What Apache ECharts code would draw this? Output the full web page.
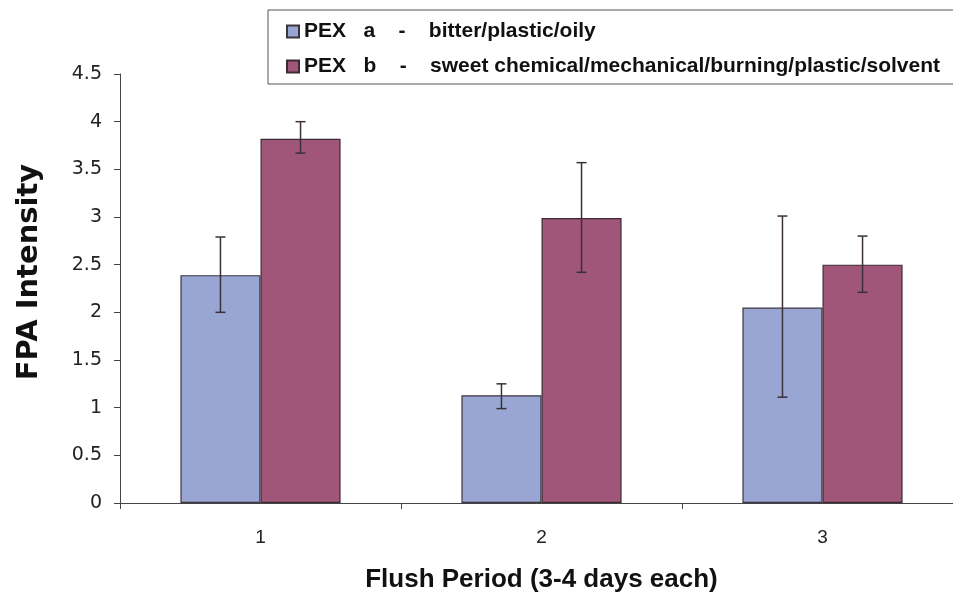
<!DOCTYPE html>
<html>
<head>
<meta charset="utf-8">
<script src="https://cdn.jsdelivr.net/npm/echarts@6/dist/echarts.min.js"></script>
<style>
  html, body { margin: 0; padding: 0; background: #fff; }
  #chart { width: 953px; height: 592px; }
</style>
</head>
<body>
<div id="chart"></div>
<script>
// flush periods
const categories = ['1', '2', '3'];
const yTicks = [0, 0.5, 1, 1.5, 2, 2.5, 3, 3.5, 4, 4.5];

const seriesNames = [
  'PEX   a    -    bitter/plastic/oily',
  'PEX   b    -    sweet chemical/mechanical/burning/plastic/solvent'
];

// mean intensity
const pexA = [2.39, 1.13, 2.05];
const pexB = [3.82, 2.99, 2.50];

// error bar ends
const pexALow = [2.00, 0.99, 1.11];
const pexAHigh = [2.79, 1.25, 3.01];
const pexBLow = [3.67, 2.42, 2.21];
const pexBHigh = [4.00, 3.57, 2.80];

const colors = ['#99a6d3', '#a05679'];
const FONT = '"Liberation Sans", Arial, sans-serif';
const WIDE = '"DejaVu Sans", Verdana, sans-serif';

const chart = echarts.init(document.getElementById('chart'));

// draws the whisker for one series; side -1 = left bar, +1 = right bar
function errorBar(side) {
  return function (params, api) {
    const i = api.value(0);
    const lo = api.coord([i, api.value(1)]);
    const hi = api.coord([i, api.value(2)]);
    const band = api.size([1, 0])[0];
    const x = lo[0] + side * band * 0.57 / 4;
    const cap = 5;
    const style = { stroke: '#3c3038', lineWidth: 1.5 };
    return {
      type: 'group',
      children: [
        { type: 'line', shape: { x1: x, y1: hi[1], x2: x, y2: lo[1] }, style: style },
        { type: 'line', shape: { x1: x - cap, y1: hi[1], x2: x + cap, y2: hi[1] }, style: style },
        { type: 'line', shape: { x1: x - cap, y1: lo[1], x2: x + cap, y2: lo[1] }, style: style }
      ]
    };
  };
}

const option = {
  animation: false,
  color: colors,
  textStyle: { fontFamily: FONT },
  grid: {
    left: 120, top: 74, width: 843, height: 429,
    containLabel: false,
    outerBoundsMode: 'none'
  },
  legend: {
    data: seriesNames,
    orient: 'vertical',
    left: 268,
    top: 10,
    padding: [11, 30, 7, 18],
    itemGap: 14,
    itemWidth: 12,
    itemHeight: 12,
    icon: 'rect',
    borderColor: '#555',
    borderWidth: 1,
    textStyle: { fontFamily: FONT, fontSize: 21, fontWeight: 'bold', color: '#111' }
  },
  xAxis: {
    type: 'category',
    data: categories,
    name: 'Flush Period (3-4 days each)',
    nameLocation: 'middle',
    nameGap: 64,
    nameTextStyle: { fontFamily: FONT, fontSize: 26, fontWeight: 'bold', color: '#111' },
    axisLine: { lineStyle: { color: '#444', width: 1 } },
    axisTick: { show: true, length: 6, lineStyle: { color: '#444' } },
    axisLabel: { margin: 25, fontSize: 19, color: '#222', fontFamily: FONT },
    splitLine: { show: false }
  },
  yAxis: {
    type: 'value',
    min: 0,
    max: 4.5,
    interval: 0.5,
    name: 'FPA Intensity',
    nameLocation: 'middle',
    nameGap: 76,
    nameTextStyle: {
      fontFamily: WIDE, fontSize: 29, fontWeight: 'bold', color: '#111',
      padding: [0, 0, 0, 33]
    },
    axisLine: { show: true, lineStyle: { color: '#444', width: 1 } },
    axisTick: { show: true, length: 6, lineStyle: { color: '#444' } },
    axisLabel: {
      margin: 18,
      fontSize: 19,
      color: '#222',
      fontFamily: WIDE,
      formatter: function (v) { return yTicks.indexOf(v) >= 0 ? String(v) : ''; }
    },
    splitLine: { show: false }
  },
  series: [
    {
      name: seriesNames[0],
      type: 'bar',
      data: pexA,
      barGap: 0,
      barCategoryGap: '43%',
      itemStyle: { color: colors[0], borderColor: '#3c3440', borderWidth: 1.2 }
    },
    {
      name: seriesNames[1],
      type: 'bar',
      data: pexB,
      barGap: 0,
      barCategoryGap: '43%',
      itemStyle: { color: colors[1], borderColor: '#3c2a35', borderWidth: 1.2 }
    },
    {
      type: 'custom',
      renderItem: errorBar(-1),
      data: categories.map(function (c, i) { return [i, pexALow[i], pexAHigh[i]]; }),
      encode: { x: 0, y: [1, 2] },
      z: 10
    },
    {
      type: 'custom',
      renderItem: errorBar(1),
      data: categories.map(function (c, i) { return [i, pexBLow[i], pexBHigh[i]]; }),
      encode: { x: 0, y: [1, 2] },
      z: 10
    }
  ]
};

chart.setOption(option);
</script>
</body>
</html>
